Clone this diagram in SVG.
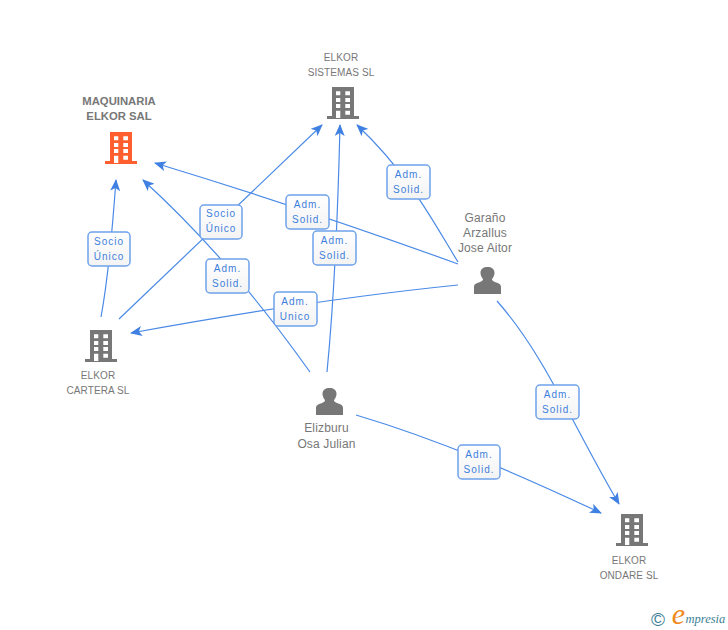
<svg xmlns="http://www.w3.org/2000/svg" width="728" height="630" viewBox="0 0 728 630">
<style>
text{font-family:"Liberation Sans",Arial,sans-serif;text-anchor:middle}
.n{font-size:10px;letter-spacing:.1px;fill:#777}
.p{font-size:12px;letter-spacing:.15px;fill:#777}
.b{font-size:11.3px;font-weight:bold;fill:#777}
.e{fill:none;stroke:#4a8ae6;stroke-width:1.2;marker-end:url(#a)}
.l rect{fill:url(#g);stroke:#6fa3ea;stroke-width:1.5}
.l text{font-size:10px;letter-spacing:1px;fill:#3f7fdc}
</style>
<defs>
<linearGradient id="g" x1="0" y1="0" x2="0" y2="1"><stop offset="0" stop-color="#fff"/><stop offset="1" stop-color="#f3f3f3"/></linearGradient>
<marker id="a" viewBox="0 0 12 10" refX="11" refY="5" markerWidth="12" markerHeight="10" markerUnits="userSpaceOnUse" orient="auto"><path d="M0 0L12 5L0 10L3 5Z" fill="#3f80e2"/></marker>
<g id="bld">
<path fill-rule="evenodd" d="M0 0H22V29H27V32H-5V29H0ZM4 4.300V8.300H8.300V4.300ZM13.300 4.300V8.300H18V4.300ZM4 11V15H8.300V11ZM13.300 11V15H18V11ZM4 17V21H8.300V17ZM13.300 17V21H18V17ZM4 23.700V31H8.300V23.700ZM13.300 23.700V27.700H18V23.700Z"/>
</g>
<path id="per" d="M0 27V20C0 17 3 16 6 15C8.500 14 9 13 9 12C7.500 10.500 6.500 8 6.500 5.800C6.500 2 9.500 0 13.500 0C17.500 0 20.500 2 20.500 5.800C20.500 8 19.500 10.500 18 12C18 13 18.500 14 21 15C24 16 27 17 27 20V27Z"/>
</defs>
<g id="connectors">
<path class="e" d="M101 317C107 285 112 235 116 180"/>
<path class="e" d="M119 319L322 125"/>
<path class="e" d="M310 372C280 330 225 255 143 180"/>
<path class="e" d="M458 264C370 232 260 195 155 163"/>
<path class="e" d="M327 372C335 290 338 210 340 125"/>
<path class="e" d="M458 285C350 296 240 313 131 333"/>
<path class="e" d="M458 262C435 225 410 175 357 125"/>
<path class="e" d="M497 301C545 355 575 430 619 504"/>
<path class="e" d="M356 415C440 440 520 475 601 513"/>
</g>
<g id="edge-labels" class="l">
<g><rect x="88" y="232" width="42" height="34" rx="4"/><text x="109" y="245">Socio</text><text x="109" y="260">Único</text></g>
<g><rect x="200" y="205" width="42" height="34" rx="4"/><text x="221" y="217">Socio</text><text x="221" y="232">Único</text></g>
<g><rect x="206" y="259" width="43" height="34" rx="4"/><text x="227.500" y="272">Adm.</text><text x="227.500" y="287">Solid.</text></g>
<g><rect x="286" y="195" width="43" height="34" rx="4"/><text x="307.500" y="208">Adm.</text><text x="307.500" y="223">Solid.</text></g>
<g><rect x="313" y="231" width="43" height="34" rx="4"/><text x="334.500" y="244">Adm.</text><text x="334.500" y="259">Solid.</text></g>
<g><rect x="274" y="292" width="43" height="34" rx="4"/><text x="295" y="305">Adm.</text><text x="295" y="320">Unico</text></g>
<g><rect x="387" y="165" width="43" height="34" rx="4"/><text x="408.500" y="178">Adm.</text><text x="408.500" y="193">Solid.</text></g>
<g><rect x="536" y="385" width="43" height="34" rx="4"/><text x="557.500" y="398">Adm.</text><text x="557.500" y="413">Solid.</text></g>
<g><rect x="458" y="445" width="42" height="34" rx="4"/><text x="479" y="458">Adm.</text><text x="479" y="473">Solid.</text></g>
</g>
<g id="maquinaria"><use href="#bld" x="110" y="132" fill="#ff5f2e"/><text class="b" x="119" y="105">MAQUINARIA</text><text class="b" x="119" y="120">ELKOR SAL</text></g>
<g id="sistemas"><use href="#bld" x="332" y="87" fill="#777"/><text class="n" x="341" y="61">ELKOR</text><text class="n" x="341" y="76">SISTEMAS SL</text></g>
<g id="cartera"><use href="#bld" x="90" y="330" fill="#777"/><text class="n" x="98" y="379">ELKOR</text><text class="n" x="98" y="394">CARTERA SL</text></g>
<g id="ondare"><use href="#bld" x="621" y="514" fill="#777"/><text class="n" x="629" y="564">ELKOR</text><text class="n" x="629" y="579">ONDARE SL</text></g>
<g id="garano"><use href="#per" x="474" y="267" fill="#777"/><text class="p" x="485" y="222">Garaño</text><text class="p" x="485" y="237">Arzallus</text><text class="p" x="485" y="252">Jose Aitor</text></g>
<g id="elizburu"><use href="#per" x="316" y="388" fill="#777"/><text class="p" x="326.500" y="432">Elizburu</text><text class="p" x="326.500" y="448">Osa Julian</text></g>
<g id="logo">
<text x="658" y="626" style="font-size:19px;fill:#3d7f95">©</text>
<text x="678.500" y="624" style="font-family:'Liberation Serif',serif;font-style:italic;font-size:30px;fill:#f08a1d">e</text>
<text x="685.500" y="623" style="font-family:'Liberation Serif',serif;font-style:italic;font-size:12.500px;text-anchor:start;fill:#3d7f95">mpresia</text>
</g>
</svg>
